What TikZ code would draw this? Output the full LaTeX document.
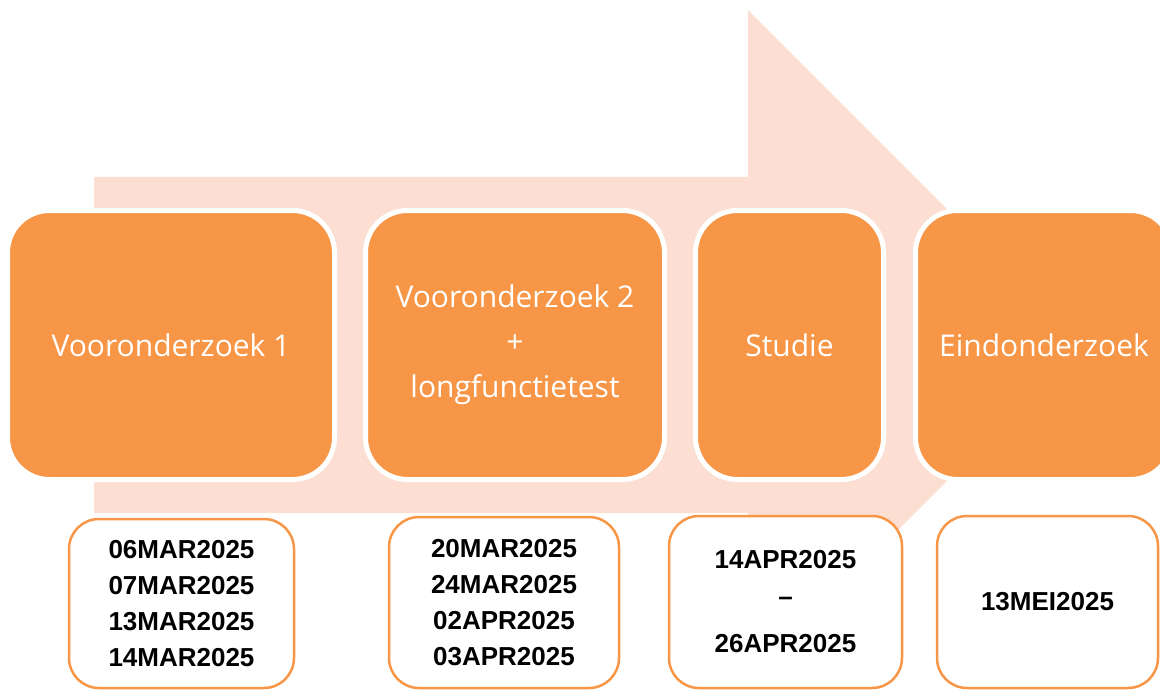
\documentclass[tikz,border=0pt]{standalone}
\usepackage{fontspec}
\setmainfont{Open Sans}
\newfontfamily\datefont{Liberation Sans}
\usepackage{tikz}

\definecolor{stageorange}{HTML}{F79646}
\definecolor{arrowpink}{HTML}{FCDED3}

\begin{document}
\begin{tikzpicture}
        [x=1pt, y=-1pt,
        stage/.style = {rectangle,
        rounded corners = 42pt,
        fill=stageorange,
        draw=white,
        line width=5pt,
        text=white,
        align=center,
        font=\fontsize{30}{45}\selectfont,
        minimum height = 269pt},
        datebox/.style = {rectangle,
        rounded corners = 30pt,
        fill=white,
        draw=stageorange,
        line width=2.5pt,
        align=center,
        font=\datefont\bfseries\fontsize{26}{36}\selectfont}]

        \useasboundingbox (0,0) rectangle (1160,690);

        % Big arrow behind the stages
        \fill[arrowpink] (94,177) -- (748,177) -- (748,10) -- (1083,345)
            -- (748,680) -- (748,513) -- (94,513) -- cycle;

        % Stages
        \node[stage,minimum width=327pt] (S1) at (171,345) {Vooronderzoek 1};
        \node[stage,minimum width=299pt] (S2) at (515,345) {Vooronderzoek 2\\+\\longfunctietest};
        \node[stage,minimum width=188pt] (S3) at (789.5,345) {Studie};
        \node[stage,minimum width=257pt] (S4) at (1044,345) {Eindonderzoek};

        % Dates
        \node[datebox,minimum width=225pt,minimum height=169pt] (D1) at (181.5,603.5)
            {06MAR2025\\07MAR2025\\13MAR2025\\14MAR2025};
        \node[datebox,minimum width=230pt,minimum height=171pt] (D2) at (504,602.5)
            {20MAR2025\\24MAR2025\\02APR2025\\03APR2025};
        \node[datebox,minimum width=233pt,minimum height=172pt] (D3) at (785.5,602)
            {14APR2025\\[3pt]\raisebox{2pt}{–}\\[9pt]26APR2025};
        \node[datebox,minimum width=221pt,minimum height=172pt] (D4) at (1047.5,602)
            {13MEI2025};
    \end{tikzpicture}
\end{document}
